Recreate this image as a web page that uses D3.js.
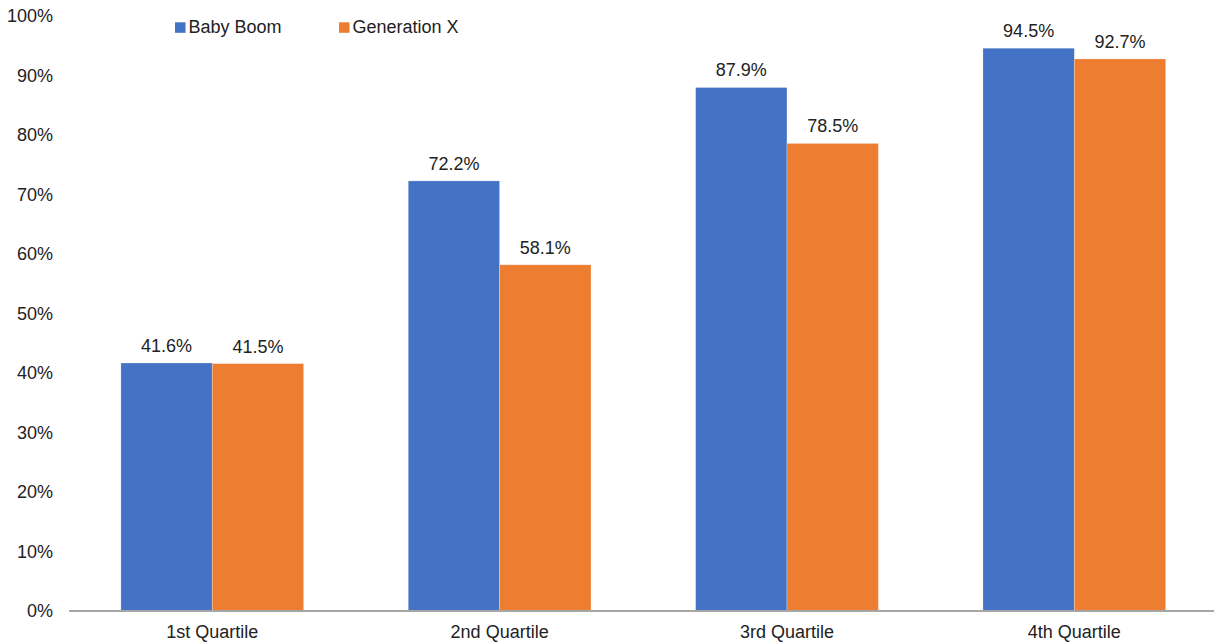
<!DOCTYPE html>
<html>
<head>
<meta charset="utf-8">
<script src="https://cdn.jsdelivr.net/npm/d3@7"></script>
<style>
  html, body { margin: 0; padding: 0; background: #fff; }
  svg { display: block; font-family: "Liberation Sans", Arial, sans-serif; }
</style>
</head>
<body>
<svg id="chart" width="1214" height="644"></svg>
<script>
// Share of households by wealth quartile, two generations
const categories = ["1st Quartile", "2nd Quartile", "3rd Quartile", "4th Quartile"];
const seriesNames = ["Baby Boom", "Generation X"];
const babyBoom = [41.6, 72.2, 87.9, 94.5];
const generationX = [41.5, 58.1, 78.5, 92.7];
const yTicks = [0, 10, 20, 30, 40, 50, 60, 70, 80, 90, 100];
const colors = ["#4472C4", "#ED7D31"];

const seriesValues = [babyBoom, generationX];
const rows = categories.map((c, i) => ({
  category: c,
  values: seriesNames.map((s, j) => ({ series: s, value: seriesValues[j][i], idx: j }))
}));

const svg = d3.select("#chart");
const plotLeft = 68.6, plotRight = 1218, plotTop = 15.5, plotBottom = 610.5;

const x = d3.scaleBand().domain(categories).range([plotLeft, plotRight])
  .paddingInner(0.364).paddingOuter(0.182);
const xs = d3.scaleBand().domain(seriesNames).range([0, x.bandwidth()]);
const y = d3.scaleLinear().domain([0, 100]).range([plotBottom, plotTop]);

// Y axis labels (no axis line or gridlines)
const yAxis = d3.axisLeft(y).tickValues(yTicks).tickFormat(d => d + "%").tickSize(0).tickPadding(0);
const gy = svg.append("g").attr("transform", `translate(53,0)`).call(yAxis);
gy.select(".domain").remove();
gy.selectAll("text").attr("font-size", 18).attr("fill", "#222")
  .attr("font-family", "Liberation Sans, Arial, sans-serif").attr("dy", "0.35em");

// Bars
const groups = svg.append("g").selectAll("g").data(rows).join("g")
  .attr("transform", d => `translate(${x(d.category)},0)`);

groups.selectAll("rect").data(d => d.values).join("rect")
  .attr("x", d => xs(d.series))
  .attr("width", xs.bandwidth())
  .attr("y", d => y(d.value))
  .attr("height", d => y(0) - y(d.value))
  .attr("fill", d => colors[d.idx])
  .attr("stroke", "#ffffff").attr("stroke-opacity", 0.35).attr("stroke-width", 0.75);

// Value labels
groups.selectAll("text.val").data(d => d.values).join("text")
  .attr("class", "val")
  .attr("x", d => xs(d.series) + xs.bandwidth() / 2)
  .attr("y", d => y(d.value) - 11)
  .attr("text-anchor", "middle")
  .attr("font-size", 18).attr("fill", "#222")
  .text(d => d.value.toFixed(1) + "%");

// X axis baseline and category labels
const xAxis = d3.axisBottom(x).tickSize(0).tickPadding(0);
const gx = svg.append("g").attr("transform", `translate(0,${plotBottom})`).call(xAxis);
gx.select(".domain").attr("stroke", "#a6a6a6").attr("stroke-width", 2);
gx.selectAll("text").attr("font-size", 18).attr("fill", "#222")
  .attr("font-family", "Liberation Sans, Arial, sans-serif").attr("dy", null).attr("y", 27.5);

// Legend
const legendX = [175, 339];
const legend = svg.append("g").selectAll("g").data(seriesNames).join("g")
  .attr("transform", (d, i) => `translate(${legendX[i]},22.3)`);
legend.append("rect").attr("width", 10.5).attr("height", 10.5).attr("fill", (d, i) => colors[i]);
legend.append("text").attr("x", 13.5).attr("y", 11).attr("font-size", 18).attr("fill", "#222").text(d => d);
</script>
</body>
</html>
